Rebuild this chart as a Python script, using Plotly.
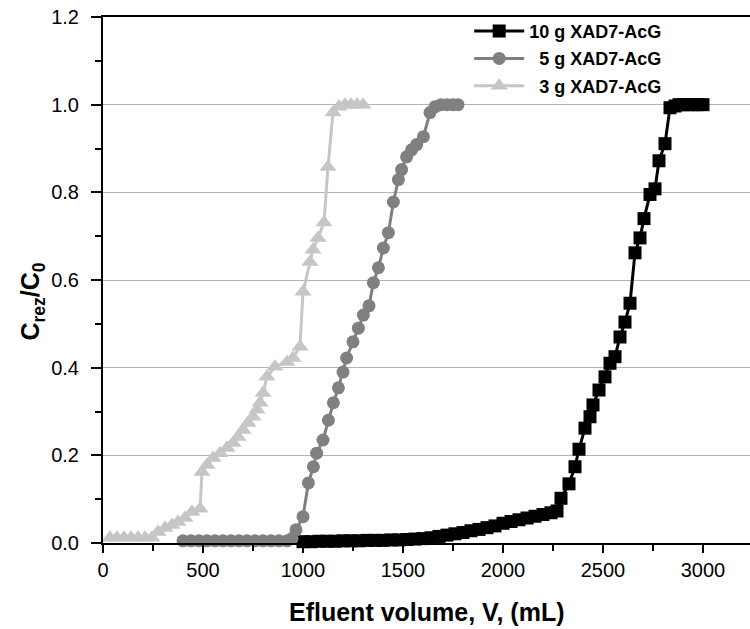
import plotly.graph_objects as go

# ---- data ----
v_10g = [1000, 1040, 1080, 1120, 1160, 1200, 1240, 1280, 1320, 1360, 1400, 1440, 1480,
         1520, 1560, 1600, 1640, 1680, 1720, 1760, 1800, 1840, 1880, 1920, 1960, 2000,
         2040, 2080, 2120, 2160, 2200, 2240, 2270, 2290, 2330, 2360, 2380, 2410, 2435,
         2450, 2480, 2510, 2535, 2560, 2585, 2610, 2635, 2660, 2685, 2705, 2735, 2760,
         2780, 2810, 2835, 2860, 2880, 2900, 2925, 2950, 2975, 3000]
c_10g = [0.003, 0.003, 0.004, 0.004, 0.004, 0.005, 0.005, 0.005, 0.006, 0.006, 0.006,
         0.007, 0.007, 0.008, 0.009, 0.010, 0.012, 0.015, 0.018, 0.021, 0.024, 0.028,
         0.031, 0.035, 0.039, 0.045, 0.049, 0.053, 0.057, 0.061, 0.065, 0.069, 0.073,
         0.102, 0.135, 0.174, 0.214, 0.262, 0.288, 0.315, 0.349, 0.379, 0.410, 0.425,
         0.470, 0.504, 0.547, 0.662, 0.696, 0.740, 0.795, 0.808, 0.872, 0.911, 0.993,
         0.997, 1.0, 1.0, 1.0, 1.0, 1.0, 1.0]

v_5g = [400, 440, 480, 520, 560, 600, 640, 680, 720, 760, 800, 840, 880, 920, 945,
        965, 1000, 1027, 1052, 1068, 1100, 1127, 1152, 1177, 1200, 1218, 1250, 1277,
        1302, 1330, 1352, 1377, 1402, 1427, 1452, 1477, 1493, 1518, 1543, 1568, 1602,
        1635, 1660, 1690, 1720, 1750, 1775]
c_5g = [0.005, 0.005, 0.005, 0.005, 0.005, 0.005, 0.005, 0.005, 0.005, 0.005, 0.005,
        0.005, 0.005, 0.005, 0.010, 0.030, 0.060, 0.137, 0.174, 0.205, 0.235, 0.280,
        0.320, 0.354, 0.390, 0.422, 0.459, 0.490, 0.520, 0.541, 0.594, 0.628, 0.673,
        0.708, 0.778, 0.829, 0.852, 0.881, 0.897, 0.909, 0.927, 0.982, 0.995, 1.0,
        1.0, 1.0, 1.0]

v_3g = [35, 70, 105, 140, 175, 210, 245, 275, 310, 345, 375, 410, 445, 485, 495, 520,
        550, 585, 620, 650, 675, 700, 725, 750, 770, 785, 800, 820, 860, 920, 950, 985,
        1000, 1035, 1050, 1075, 1105, 1125, 1150, 1180, 1210, 1240, 1270, 1300]
c_3g = [0.012, 0.012, 0.012, 0.012, 0.012, 0.012, 0.012, 0.025, 0.034, 0.041, 0.048,
        0.057, 0.071, 0.078, 0.162, 0.178, 0.194, 0.205, 0.217, 0.228, 0.242, 0.258,
        0.274, 0.288, 0.304, 0.320, 0.342, 0.379, 0.402, 0.413, 0.422, 0.448, 0.573,
        0.641, 0.669, 0.696, 0.731, 0.858, 0.982, 0.995, 1.0, 1.0, 1.0, 1.0]

series_names = ["10 g XAD7-AcG", "\u20075 g XAD7-AcG", "\u20073 g XAD7-AcG"]
x_tick_vals = [0, 500, 1000, 1500, 2000, 2500, 3000]
x_tick_text = ["0", "500", "1000", "1500", "2000", "2500", "3000"]
y_tick_vals = [0.0, 0.2, 0.4, 0.6, 0.8, 1.0, 1.2]
y_tick_text = ["0.0", "0.2", "0.4", "0.6", "0.8", "1.0", "1.2"]
x_title = "Efluent volume, V, (mL)"
y_title = "C<sub>rez</sub>/C<sub>0</sub>"

FONT = "Liberation Sans, Arial, sans-serif"

fig = go.Figure()
fig.add_trace(go.Scatter(
    x=v_10g, y=c_10g, name=series_names[0], mode="lines+markers",
    line=dict(color="#000000", width=3),
    marker=dict(symbol="square", size=13, color="#000000"),
    legendgroup="a", cliponaxis=False))
fig.add_trace(go.Scatter(
    x=v_5g, y=c_5g, name=series_names[1], mode="lines+markers",
    line=dict(color="#808080", width=3),
    marker=dict(symbol="circle", size=13, color="#808080"),
    legendgroup="b", cliponaxis=False))
fig.add_trace(go.Scatter(
    x=v_3g, y=c_3g, name=series_names[2], mode="lines+markers",
    line=dict(color="#c6c6c6", width=3),
    marker=dict(symbol="triangle-up", size=15, color="#c6c6c6"),
    legendgroup="c", cliponaxis=False))

fig.update_layout(
    width=750, height=629,
    margin=dict(l=103, r=0, t=17, b=86, autoexpand=False),
    paper_bgcolor="white", plot_bgcolor="white",
    font=dict(family=FONT, color="black"),
    showlegend=True,
    legend=dict(x=0.566, y=1.008, xanchor="left", yanchor="top",
                bgcolor="rgba(0,0,0,0)", tracegroupgap=1, itemwidth=50,
                font=dict(family=FONT, size=18, color="black", weight="bold")),
    xaxis=dict(
        range=[0, 3235], tickmode="array", tickvals=x_tick_vals, ticktext=x_tick_text,
        ticks="outside", ticklen=8, tickwidth=1.5, tickcolor="black",
        minor=dict(dtick=250, ticks="outside", ticklen=6, tickwidth=1.5, tickcolor="black",
                   showgrid=False),
        showline=True, linecolor="black", linewidth=2, mirror=True,
        showgrid=False, zeroline=False, automargin=False,
        tickfont=dict(family=FONT, size=20, color="black")),
    yaxis=dict(
        range=[0, 1.2], tickmode="array", tickvals=y_tick_vals, ticktext=y_tick_text,
        ticks="outside", ticklen=10, tickwidth=1.5, tickcolor="black",
        minor=dict(dtick=0.1, ticks="outside", ticklen=6, tickwidth=1.5, tickcolor="black",
                   showgrid=False),
        showline=True, linecolor="black", linewidth=2, mirror=False,
        showgrid=True, gridcolor="#b4b4b4", gridwidth=1, zeroline=False, automargin=False,
        ticklabelstandoff=8,
        tickfont=dict(family=FONT, size=20, color="black")),
)

fig.add_annotation(
    text="<b>" + x_title + "</b>",
    xref="paper", yref="paper", x=0.5, y=-0.131, xanchor="center", yanchor="middle",
    showarrow=False, font=dict(family=FONT, size=25, color="black"))
fig.add_annotation(
    text="<b>" + y_title + "</b>", textangle=-90,
    xref="paper", yref="paper", x=-0.109, y=0.46, xanchor="center", yanchor="middle",
    showarrow=False, font=dict(family=FONT, size=25, color="black"))

fig.write_html("out.html", config={"displayModeBar": False},
               post_script="document.body.style.margin='0';document.body.style.padding='0';")
